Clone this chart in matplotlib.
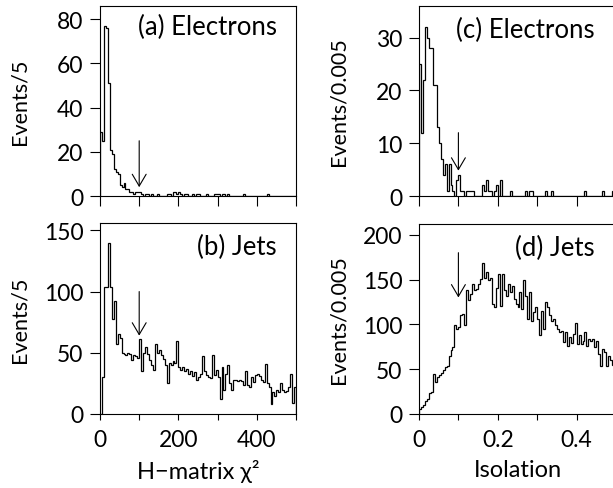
import numpy as np
import matplotlib
matplotlib.use("Agg")
import matplotlib.pyplot as plt

# H-matrix chi2 histograms, bins of 5 from 0 to 500
chi_edges = np.arange(0, 505, 5)
chi_electrons = [29, 25, 77, 76, 51, 21, 19, 12, 11, 10,
                 5, 4, 6, 3, 3, 2, 2, 1, 2, 2,
                 2, 1, 0, 1, 1, 0, 1, 0, 0, 1,
                 0, 0, 0, 0, 1, 1, 0, 2, 2, 1,
                 2, 1, 0, 1, 1, 0, 0, 1, 0, 1,
                 1, 0, 0, 0, 1, 0, 0, 0, 1, 1,
                 1, 0, 1, 1, 0, 1, 0, 0, 0, 0,
                 0, 0, 0, 1, 0, 0, 0, 0, 0, 0,
                 0, 0, 0, 0, 0, 1, 0, 0, 0, 0,
                 0, 0, 0, 0, 0, 0, 0, 0, 0, 0]
chi_jets = [0, 30, 104, 104, 140, 104, 78, 92, 57, 65,
            62, 50, 49, 48, 50, 49, 44, 48, 47, 46,
            61, 35, 50, 55, 49, 44, 40, 36, 57, 50,
            52, 48, 45, 40, 25, 42, 40, 43, 42, 60,
            38, 36, 38, 35, 37, 33, 35, 31, 34, 28,
            30, 33, 47, 35, 32, 30, 29, 48, 32, 36,
            30, 12, 38, 20, 33, 40, 25, 20, 28, 28,
            27, 28, 27, 24, 35, 24, 22, 30, 26, 32,
            33, 31, 28, 26, 41, 25, 22, 8, 18, 15,
            20, 18, 25, 20, 18, 19, 22, 33, 9, 22]

# isolation histograms, bins of 0.005 from 0 to 0.5
iso_edges = np.linspace(0, 0.5, 101)
iso_electrons = [25, 12, 22, 32, 30, 28, 28, 21, 21, 13,
                 10, 7, 4, 6, 1, 6, 2, 1, 0, 3,
                 4, 1, 1, 0, 1, 1, 1, 1, 0, 0,
                 0, 0, 2, 1, 3, 1, 1, 0, 1, 2,
                 0, 3, 0, 0, 0, 0, 1, 0, 0, 0,
                 0, 0, 0, 0, 1, 0, 1, 1, 0, 0,
                 0, 0, 0, 0, 1, 0, 0, 1, 0, 0,
                 0, 0, 0, 0, 0, 0, 0, 0, 0, 0,
                 0, 0, 0, 0, 1, 0, 0, 0, 0, 0,
                 0, 0, 0, 1, 0, 0, 0, 0, 1, 0]
iso_jets = [6, 8, 10, 14, 17, 23, 24, 45, 36, 41,
            43, 46, 49, 52, 54, 65, 71, 75, 99, 95,
            97, 110, 112, 99, 138, 127, 134, 145, 138, 140,
            145, 151, 169, 152, 158, 149, 152, 123, 119, 141,
            156, 121, 156, 138, 132, 145, 136, 143, 128, 123,
            119, 136, 117, 149, 132, 106, 136, 104, 114, 119,
            106, 88, 115, 95, 125, 119, 110, 104, 106, 99,
            95, 91, 93, 80, 91, 76, 86, 79, 89, 102,
            78, 88, 78, 82, 91, 76, 84, 82, 84, 75,
            82, 67, 54, 73, 69, 54, 65, 60, 55, 58]

plt.rcParams['font.family'] = ['Lato', 'DejaVu Sans']
plt.rcParams['font.size'] = 16.5

W, H = 613, 489
fig = plt.figure(figsize=(W / 100, H / 100), dpi=100)

def box(l, t, r, b):
    return [l / W, 1 - b / H, (r - l) / W, (b - t) / H]

ax_a = fig.add_axes(box(100, 7, 296, 197))
ax_b = fig.add_axes(box(100, 224, 296, 415))
ax_c = fig.add_axes(box(419, 7, 616, 197))
ax_d = fig.add_axes(box(419, 225, 616, 415))

panels = [
    (ax_a, chi_edges, chi_electrons, (0, 86), [0, 20, 40, 60, 80], '(a) Electrons', (0.903, 0.89), 'Events/5', (100, 4, 25), True),
    (ax_b, chi_edges, chi_jets, (0, 156), [0, 50, 100, 150], '(b) Jets', (0.903, 0.875), 'Events/5', (100, 64, 100), False),
    (ax_c, iso_edges, iso_electrons, (0, 36), [0, 10, 20, 30], '(c) Electrons', (0.893, 0.879), 'Events/0.005', (0.1, 4.8, 12), True),
    (ax_d, iso_edges, iso_jets, (0, 212), [0, 50, 100, 150, 200], '(d) Jets', (0.893, 0.874), 'Events/0.005', (0.1, 130, 180), False),
]

for ax, edges, vals, ylim, yticks, title, tpos, ylabel, arr, top in panels:
    ax.stairs(vals, edges, color='black', lw=0.9)
    ax.set_xlim(edges[0], edges[-1])
    ax.set_ylim(*ylim)
    ax.set_yticks(yticks)
    ax.set_xticks(np.linspace(edges[0], edges[-1], 6))
    for s in ax.spines.values():
        s.set_linewidth(0.8)
    ax.tick_params(axis='y', direction='out', length=7, width=0.8, pad=5)
    ax.tick_params(axis='x', direction='out', length=7 if top else 4, width=0.8, pad=7)
    ax.set_ylabel(ylabel, fontsize=15.5)
    ax.yaxis.set_label_coords(-0.36, 0.5)
    ax.text(tpos[0], tpos[1], title, transform=ax.transAxes, ha='right', va='center',
            fontsize=18.5)
    x0, y_tip, y_top = arr
    ax.annotate('', xy=(x0, y_tip), xytext=(x0, y_top),
                arrowprops=dict(arrowstyle='->,head_length=8.5,head_width=5',
                                mutation_scale=1, lw=0.8, color='black',
                                shrinkA=0, shrinkB=0))

# only the bottom row carries x labels, every second tick
ax_a.set_xticklabels([])
ax_c.set_xticklabels([])
ax_b.set_xticklabels(['0', '', '200', '', '400', ''])
ax_d.set_xticklabels(['0', '', '0.2', '', '0.4', ''])
ax_b.set_xlabel('H\u2212matrix \u03c7\u00b2', labelpad=6, fontsize=17)
ax_d.set_xlabel('Isolation', labelpad=6, fontsize=17)

fig.savefig('out.png', dpi=100)
